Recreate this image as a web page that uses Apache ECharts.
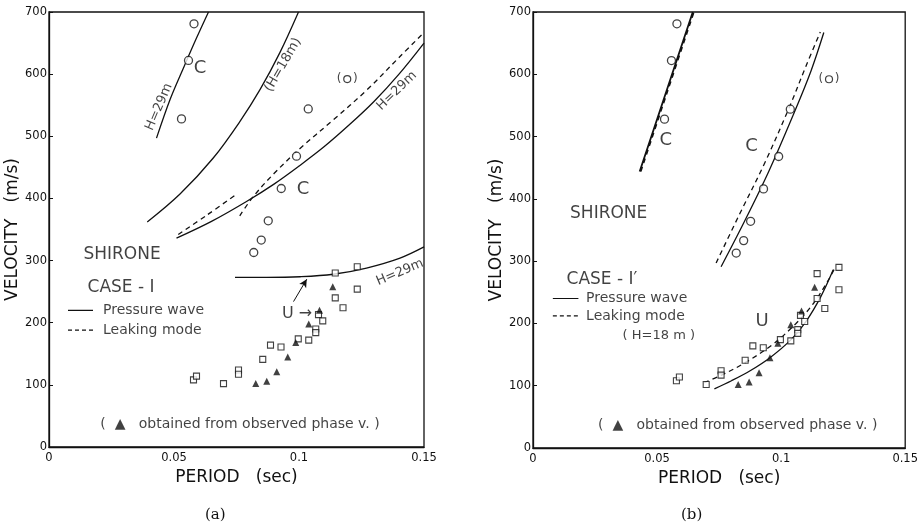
<!DOCTYPE html>
<html><head><meta charset="utf-8">
<script src="https://cdn.jsdelivr.net/npm/echarts@6/dist/echarts.min.js"></script>
<style>html,body{margin:0;padding:0;background:#fff}#c{width:921px;height:528px}</style>
</head><body><div id="c"></div><script>
// ---- observed data (shared by both panels) ----
const circlePeriod = [0.0580,0.0558,0.0530,0.0819,0.0849,0.0877,0.0929,0.0990,0.1037];
const circleVel    = [681,622,528,313,333,364,416,468,544];
const circleParenPeriod = [0.1193];
const circleParenVel    = [592];
const squarePeriod = [0.0578,0.0590,0.0698,0.0758,0.0758,0.0855,0.0886,0.0928,0.0997,0.1039,0.1067,0.1067,0.1078,0.1095,0.1145,0.1176,0.1145,0.1233,0.1233];
const squareVel    = [108,114,102,124,117,141,164,161,174,172,190,184,213,203,240,224,280,290,254];
const trianglePeriod = [0.0827,0.0871,0.0911,0.0955,0.0987,0.1039,0.1082,0.1135];
const triangleVel    = [102,106,121,145,168,198,220,258];

// ---- panel (a) theoretical curves ----
const aC29Period = [0.0430,0.0485,0.0540,0.0590,0.0638];
const aC29Vel    = [497,560,612,658,700];
const aC18Period = [0.0393,0.0524,0.0657,0.0764,0.0844,0.0924,0.0998];
const aC18Vel    = [362,407,465,524,575,635,700];
const aC29bPeriod = [0.051,0.065,0.079,0.090,0.100,0.110,0.120,0.130,0.140,0.150];
const aC29bVel    = [336,363,395,423,452,483,518,556,600,650];
const aLeakPeriod = [0.0763,0.0817,0.0900,0.1003,0.1136,0.1270,0.1403,0.1500];
const aLeakVel    = [372,403,440,480,526,574,628,667];
const aLeakShortPeriod = [0.0517,0.0631,0.0751];
const aLeakShortVel    = [342,373,407];
const aU29Period = [0.0744,0.0870,0.1004,0.1137,0.1270,0.1404,0.1500];
const aU29Vel    = [273,273,274,278,288,304,322];
const aArrowPeriod = [0.0978,0.1031];
const aArrowVel    = [234,270];

// ---- panel (b) theoretical curves ----
const bC1Period = [0.0430,0.0537,0.0644];
const bC1Vel    = [444,572,700];
const bC2Period = [0.0758,0.0850,0.0950,0.1050,0.1120,0.1172];
const bC2Vel    = [291,362,444,536,605,667];
const bC2LeakPeriod = [0.0738,0.0832,0.0932,0.1032,0.1102,0.1158];
const bC2LeakVel    = [297,375,456,546,615,668];
const bUPeriod = [0.0731,0.0800,0.0875,0.0955,0.1040,0.1100,0.1160,0.1210];
const bUVel    = [95,108,124,145,174,203,243,286];
const bULeakPeriod = [0.0690,0.0760,0.0855,0.0965,0.1060,0.1130,0.1185,0.1218];
const bULeakVel    = [105,117,137,166,200,232,266,290];

// ---- axis ticks ----
const periodMin = 0, periodMax = 0.15, periodStep = 0.05;
const velMin = 0, velMax = 700, velStep = 100;

const FONT = 'DejaVu Sans';
const INK = '#111';
const zip = (a,b) => a.map((v,i)=>[v,b[i]]);

function curve(ai, px, vy, dashed, w) {
  return {type:'line', xAxisIndex:ai, yAxisIndex:ai, data:zip(px,vy), smooth:0.35, symbol:'none',
    lineStyle:{color:INK, width:w||1.3, type: dashed ? [5,4] : 'solid'}, silent:true, z:3};
}
function markers(ai) {
  return [
    {type:'scatter', xAxisIndex:ai, yAxisIndex:ai, data:zip(circlePeriod,circleVel), symbol:'circle', symbolSize:8,
     itemStyle:{color:'#fff', borderColor:INK, borderWidth:1.3}, z:5},
    {type:'scatter', xAxisIndex:ai, yAxisIndex:ai, data:zip(circleParenPeriod,circleParenVel), symbol:'circle', symbolSize:7,
     itemStyle:{color:'#fff', borderColor:INK, borderWidth:1.2}, z:5,
     label:{show:true, position:'inside', formatter:'(   )', fontFamily:FONT, fontSize:12, color:INK}},
    {type:'scatter', xAxisIndex:ai, yAxisIndex:ai, data:zip(squarePeriod,squareVel), symbol:'rect', symbolSize:6,
     itemStyle:{color:'#fff', borderColor:INK, borderWidth:1.1}, z:5},
    {type:'scatter', xAxisIndex:ai, yAxisIndex:ai, data:zip(trianglePeriod,triangleVel), symbol:'triangle', symbolSize:7,
     itemStyle:{color:INK}, z:6}
  ];
}
function texts(ai, items) {
  return {type:'scatter', xAxisIndex:ai, yAxisIndex:ai, symbolSize:1, silent:true, z:7,
    itemStyle:{color:'rgba(0,0,0,0)'},
    data: items.map(t => ({value:[t.x,t.y], label:{show:true, position:'inside', formatter:t.s,
      rotate:t.r||0, fontSize:t.f||14, fontFamily:FONT, color:INK, align:t.a||'center', verticalAlign:'middle'}}))};
}
function segment(ai, x1, x2, y, dashed) {
  return {type:'line', xAxisIndex:ai, yAxisIndex:ai, data:[[x1,y],[x2,y]], symbol:'none', silent:true,
    lineStyle:{color:INK, width:1.2, type: dashed ? [4,3] : 'solid'}};
}

const aTexts = [
  {x:0.0440, y:547, s:'H=29m', r:67, f:13},
  {x:0.0604, y:610, s:'C', f:18},
  {x:0.0936, y:615, s:'(H=18m)', r:60, f:13},
  {x:0.1391, y:573, s:'H=29m', r:44, f:13},
  {x:0.1016, y:415, s:'C', f:18},
  {x:0.1404, y:281, s:'H=29m', r:23, f:13},
  {x:0.0992, y:215, s:'U →', f:16},
  {x:0.0292, y:309, s:'SHIRONE', f:17},
  {x:0.0288, y:256, s:'CASE - I', f:17},
  {x:0.0216, y:220, s:'Pressure wave', f:14, a:'left'},
  {x:0.0216, y:188, s:'Leaking mode', f:14, a:'left'},
  {x:0.0764, y:37, s:'(  ▲   obtained from observed phase v. )', f:14}
];
const bTexts = [
  {x:0.0535, y:494, s:'C', f:18},
  {x:0.0881, y:485, s:'C', f:18},
  {x:0.0305, y:377, s:'SHIRONE', f:17},
  {x:0.0278, y:271, s:'CASE - I′', f:17},
  {x:0.0214, y:240, s:'Pressure wave', f:14, a:'left'},
  {x:0.0214, y:212, s:'Leaking mode', f:14, a:'left'},
  {x:0.0507, y:181, s:'( H=18 m )', f:13},
  {x:0.0923, y:203, s:'U', f:18},
  {x:0.0825, y:37, s:'(  ▲   obtained from observed phase v. )', f:14}
];

function xAxis(gi) {
  return {type:'value', gridIndex:gi, min:periodMin, max:periodMax, interval:periodStep,
    name:'PERIOD   (sec)', nameLocation:'middle', nameGap:20,
    nameTextStyle:{fontFamily:FONT, fontSize:17, color:INK},
    axisLine:{show:true, lineStyle:{color:INK, width:1.3}}, axisTick:{show:false},
    splitLine:{show:false}, axisLabel:{fontFamily:FONT, fontSize:11.5, color:INK, margin:5,
      formatter: v => +v.toFixed(2) + ''}};
}
function yAxis(gi) {
  return {type:'value', gridIndex:gi, min:velMin, max:velMax, interval:velStep,
    name:'VELOCITY   (m/s)', nameLocation:'middle', nameGap:24,
    nameTextStyle:{fontFamily:FONT, fontSize:17, color:INK},
    axisLine:{show:true, lineStyle:{color:INK, width:1.3}},
    axisTick:{show:true, inside:true, length:4, lineStyle:{color:INK}},
    splitLine:{show:false}, axisLabel:{fontFamily:FONT, fontSize:11.5, color:INK, margin:2}};
}

const option = {
  animation:false,
  backgroundColor:'#fff',
  grid:[
    {left:49, top:12, width:375, height:435, show:true, borderColor:INK, borderWidth:1.3, containLabel:false},
    {left:533, top:12, width:374, height:436, show:true, borderColor:INK, borderWidth:1.3, containLabel:false}
  ],
  xAxis:[xAxis(0), xAxis(1)],
  yAxis:[yAxis(0), yAxis(1)],
  title:[
    {text:'(a)', left:200, top:503, textStyle:{fontFamily:'DejaVu Serif', fontSize:15, fontWeight:'normal', color:INK}},
    {text:'(b)', left:676, top:503, textStyle:{fontFamily:'DejaVu Serif', fontSize:15, fontWeight:'normal', color:INK}}
  ],
  series:[
    curve(0, aC29Period, aC29Vel),
    curve(0, aC18Period, aC18Vel),
    curve(0, aC29bPeriod, aC29bVel),
    curve(0, aLeakPeriod, aLeakVel, true),
    curve(0, aLeakShortPeriod, aLeakShortVel, true),
    Object.assign(curve(0, aU29Period, aU29Vel), {
      markLine:{silent:true, symbol:['none','arrow'], symbolSize:[6,8], label:{show:false},
        lineStyle:{color:INK, width:1, type:'solid'},
        data:[[{coord:[aArrowPeriod[0],aArrowVel[0]]},{coord:[aArrowPeriod[1],aArrowVel[1]]}]]}
    }),
    segment(0, 0.0076, 0.0176, 220, false),
    segment(0, 0.0076, 0.0176, 188, true),
    ...markers(0),
    texts(0, aTexts),

    curve(1, bC1Period, bC1Vel, false, 1.8),
    curve(1, bC1Period.map(v=>v+0.0004), bC1Vel, true, 1.8),
    curve(1, bC2Period, bC2Vel),
    curve(1, bC2LeakPeriod, bC2LeakVel, true),
    curve(1, bUPeriod, bUVel),
    curve(1, bULeakPeriod, bULeakVel, true),
    segment(1, 0.0080, 0.0183, 240, false),
    segment(1, 0.0080, 0.0183, 212, true),
    ...markers(1),
    texts(1, bTexts)
  ]
};
const chart = echarts.init(document.getElementById('c'), null, {renderer:'canvas'});
chart.setOption(option);
</script></body></html>
